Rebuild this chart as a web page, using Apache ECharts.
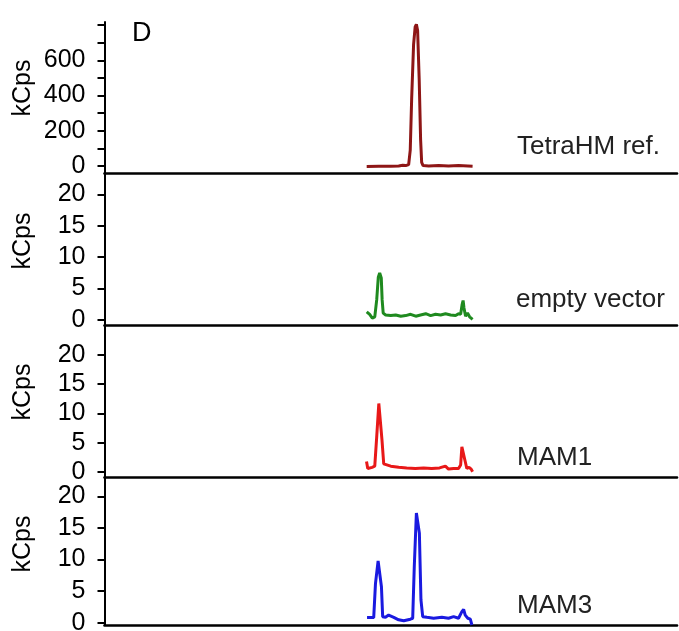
<!DOCTYPE html>
<html>
<head>
<meta charset="utf-8">
<script src="https://cdn.jsdelivr.net/npm/echarts@6/dist/echarts.min.js"></script>
<style>
html,body{margin:0;padding:0;background:#fff;}
#chart{width:679px;height:631px;}
</style>
</head>
<body>
<div id="chart"></div>
<script>
// ---- data ----
var panelNames = ['TetraHM ref.', 'empty vector', 'MAM1', 'MAM3'];
var yLabelText = 'kCps';
var panelLetter = 'D';

var tetraX = [11.53, 12.22, 12.90, 13.35, 13.58, 13.75, 13.92, 14.01, 14.09, 14.20, 14.29, 14.36, 14.43, 14.52, 14.60, 14.66, 14.74, 15.06, 15.63, 16.19, 16.76, 17.56];
var tetraY = [-3, -2, -2, 0, 4, 2, 8, 90, 380, 690, 790, 805, 770, 490, 150, 20, 2, 0, 2, 0, 2, -2];

var emptyX = [11.53, 11.70, 11.85, 11.99, 12.10, 12.19, 12.27, 12.36, 12.41, 12.47, 12.61, 12.90, 13.18, 13.47, 13.75, 14.03, 14.32, 14.60, 14.89, 15.17, 15.45, 15.74, 16.02, 16.31, 16.59, 16.76, 16.88, 16.96, 17.02, 17.07, 17.16, 17.27, 17.39, 17.50, 17.56];
var emptyY = [1.3, 0.9, 0.3, 0.5, 3.2, 6.8, 7.5, 6.7, 3.2, 1.1, 0.8, 0.7, 0.8, 0.6, 0.7, 0.9, 0.6, 0.8, 1.0, 0.7, 0.9, 0.8, 1.0, 0.8, 0.7, 1.0, 0.9, 2.4, 3.1, 1.9, 0.6, 1.1, 0.5, 0.8, 0.1];

var mam1X = [11.52, 11.59, 11.84, 11.99, 12.10, 12.22, 12.31, 12.40, 12.50, 12.59, 12.90, 13.35, 13.81, 14.30, 14.77, 15.23, 15.68, 16.01, 16.19, 16.48, 16.76, 16.88, 16.95, 17.05, 17.14, 17.23, 17.36, 17.48, 17.56];
var mam1Y = [1.8, 0.6, 0.8, 1.0, 6.0, 11.7, 11.4, 5.5, 1.4, 1.2, 1.0, 0.8, 0.7, 0.6, 0.7, 0.6, 0.7, 1.0, 0.5, 0.6, 0.6, 1.2, 4.3, 4.6, 1.8, 0.6, 0.8, 0.5, 0.05];

var mam3X = [11.55, 11.93, 12.03, 12.18, 12.27, 12.37, 12.44, 12.60, 12.78, 13.07, 13.35, 13.64, 14.02, 14.15, 14.24, 14.36, 14.43, 14.53, 14.62, 14.72, 14.96, 15.34, 15.81, 16.19, 16.48, 16.76, 16.95, 17.05, 17.14, 17.29, 17.43, 17.52, 17.56];
var mam3Y = [0.8, 0.8, 6.2, 9.8, 9.7, 5.7, 0.95, 0.85, 1.2, 0.85, 0.45, 0.3, 0.55, 0.7, 8.9, 17.4, 17.5, 14.2, 3.6, 0.95, 0.85, 0.7, 0.85, 0.7, 0.95, 0.7, 1.75, 2.1, 1.2, 0.7, 0.55, -0.37, -0.37];

var topTicks = [0, 100, 200, 300, 400, 500, 600, 700, 800];
var topLabels = [0, 200, 400, 600];
var lowTicks = [0, 5, 10, 15, 20];
var lowLabels = [0, 5, 10, 15, 20];

// ---- layout / style ----
var colors = ['#8e1616', '#1f8a1f', '#e81818', '#1a1ae0'];
var grids = [
  {top: 22, height: 151, min: -40, max: 818},
  {top: 174, height: 151, min: -0.8, max: 23.25},
  {top: 325, height: 152, min: -0.85, max: 25.1},
  {top: 477, height: 148, min: -0.37, max: 23.1}
];
var FONT = '"Liberation Sans", Arial, sans-serif';

function zip(xs, ys) { return xs.map(function (x, i) { return [x, ys[i]]; }); }
var seriesData = [zip(tetraX, tetraY), zip(emptyX, emptyY), zip(mam1X, mam1Y), zip(mam3X, mam3Y)];

var option = {
  backgroundColor: '#fff',
  animation: false,
  grid: grids.map(function (g) {
    return {left: 104.5, right: 2, top: g.top, height: g.height, containLabel: false, outerBoundsMode: 'none'};
  }),
  xAxis: grids.map(function (g, i) {
    return {
      type: 'value', gridIndex: i, min: -3.4, max: 29.2,
      axisLine: {show: true, onZero: false, lineStyle: {color: '#000', width: 2.6}},
      axisTick: {show: false}, axisLabel: {show: false}, splitLine: {show: false}
    };
  }),
  yAxis: grids.map(function (g, i) {
    return {
      type: 'value', gridIndex: i, min: g.min, max: g.max,
      axisLine: {show: true, onZero: false, lineStyle: {color: '#000', width: 2}},
      axisTick: {show: true, length: 7, lineStyle: {color: '#000', width: 2},
        customValues: i === 0 ? topTicks : lowTicks},
      axisLabel: {show: true, margin: 19, color: '#000', fontSize: 25, fontFamily: FONT,
        customValues: i === 0 ? topLabels : lowLabels},
      splitLine: {show: false}
    };
  }),
  series: seriesData.map(function (d, i) {
    return {
      type: 'line', name: panelNames[i], xAxisIndex: i, yAxisIndex: i, data: d,
      showSymbol: false, symbol: 'none', smooth: false, clip: true,
      lineStyle: {color: colors[i], width: 3}
    };
  }),
  graphic: [
    {type: 'text', x: 132, y: 34, style: {text: panelLetter, font: '27px ' + FONT, fill: '#000', textVerticalAlign: 'middle'}},
    {type: 'text', x: 23, y: 88, rotation: Math.PI / 2, style: {text: yLabelText, font: '25px ' + FONT, fill: '#000', textAlign: 'center', textVerticalAlign: 'middle'}},
    {type: 'text', x: 23, y: 241, rotation: Math.PI / 2, style: {text: yLabelText, font: '25px ' + FONT, fill: '#000', textAlign: 'center', textVerticalAlign: 'middle'}},
    {type: 'text', x: 23, y: 392, rotation: Math.PI / 2, style: {text: yLabelText, font: '25px ' + FONT, fill: '#000', textAlign: 'center', textVerticalAlign: 'middle'}},
    {type: 'text', x: 23, y: 544, rotation: Math.PI / 2, style: {text: yLabelText, font: '25px ' + FONT, fill: '#000', textAlign: 'center', textVerticalAlign: 'middle'}},
    {type: 'text', x: 517, y: 147, style: {text: panelNames[0], font: '26px ' + FONT, fill: '#222', textVerticalAlign: 'middle'}},
    {type: 'text', x: 516, y: 300, style: {text: panelNames[1], font: '26px ' + FONT, fill: '#222', textVerticalAlign: 'middle'}},
    {type: 'text', x: 517, y: 458, style: {text: panelNames[2], font: '26px ' + FONT, fill: '#222', textVerticalAlign: 'middle'}},
    {type: 'text', x: 517, y: 606, style: {text: panelNames[3], font: '26px ' + FONT, fill: '#222', textVerticalAlign: 'middle'}}
  ]
};

var chart = echarts.init(document.getElementById('chart'), null, {renderer: 'canvas'});
chart.setOption(option);
</script>
</body>
</html>
